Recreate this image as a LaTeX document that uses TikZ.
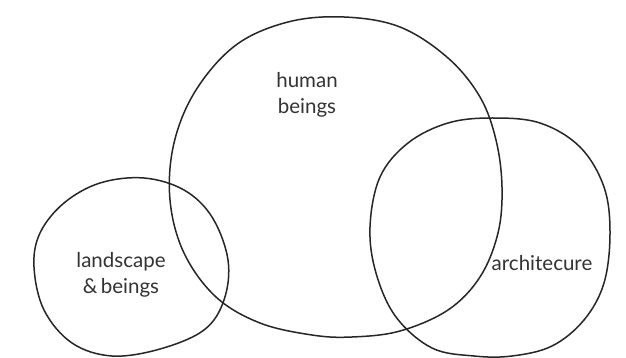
\documentclass[tikz,border=0pt]{standalone}
\usepackage{fontspec}
\setmainfont{Lato}
\begin{document}
\begin{tikzpicture}[x=1pt,y=-1pt,
  sketch/.style={draw=black!85,line width=1.5pt,line join=round},
  lbl/.style={font=\fontsize{20.5}{26}\selectfont,text=black!80,align=center,inner sep=0pt}]
\useasboundingbox (0,0) rectangle (626,358);
\fill[white] (0,0) rectangle (626,358);
% human beings
\draw[sketch] plot[smooth cycle,tension=0.6] coordinates {
 (344,17) (400,27) (448,58) (480,97) (496,140) (502,187) (498,233) (480,277)
 (448,310) (400,331) (352,337) (312,335) (260,323) (216,297) (184,253)
 (170,200) (174,143) (196,90) (236,45) (288,22)};
% architecure
\draw[sketch] plot[smooth cycle,tension=0.6] coordinates {
 (492,118) (540,123) (580,147) (604,187) (610,233) (604,283) (584,320)
 (552,346) (512,356) (474,356) (432,348) (396,317) (376,273) (370,227)
 (380,177) (408,143) (448,123)};
% landscape
\draw[sketch] plot[smooth cycle,tension=0.6] coordinates {
 (144,178) (184,190) (212,217) (228,260) (224,300) (204,330) (160,349)
 (112,356) (72,343) (44,310) (34,267) (40,233) (64,203) (100,183)};
\node[lbl] (hb) at (307,95) {human\\beings};
\node[lbl] (lb) at (121,275) {landscape\\\&\,beings};
\node[lbl] (ar) at (542,263) {architecure};
\end{tikzpicture}
\end{document}
